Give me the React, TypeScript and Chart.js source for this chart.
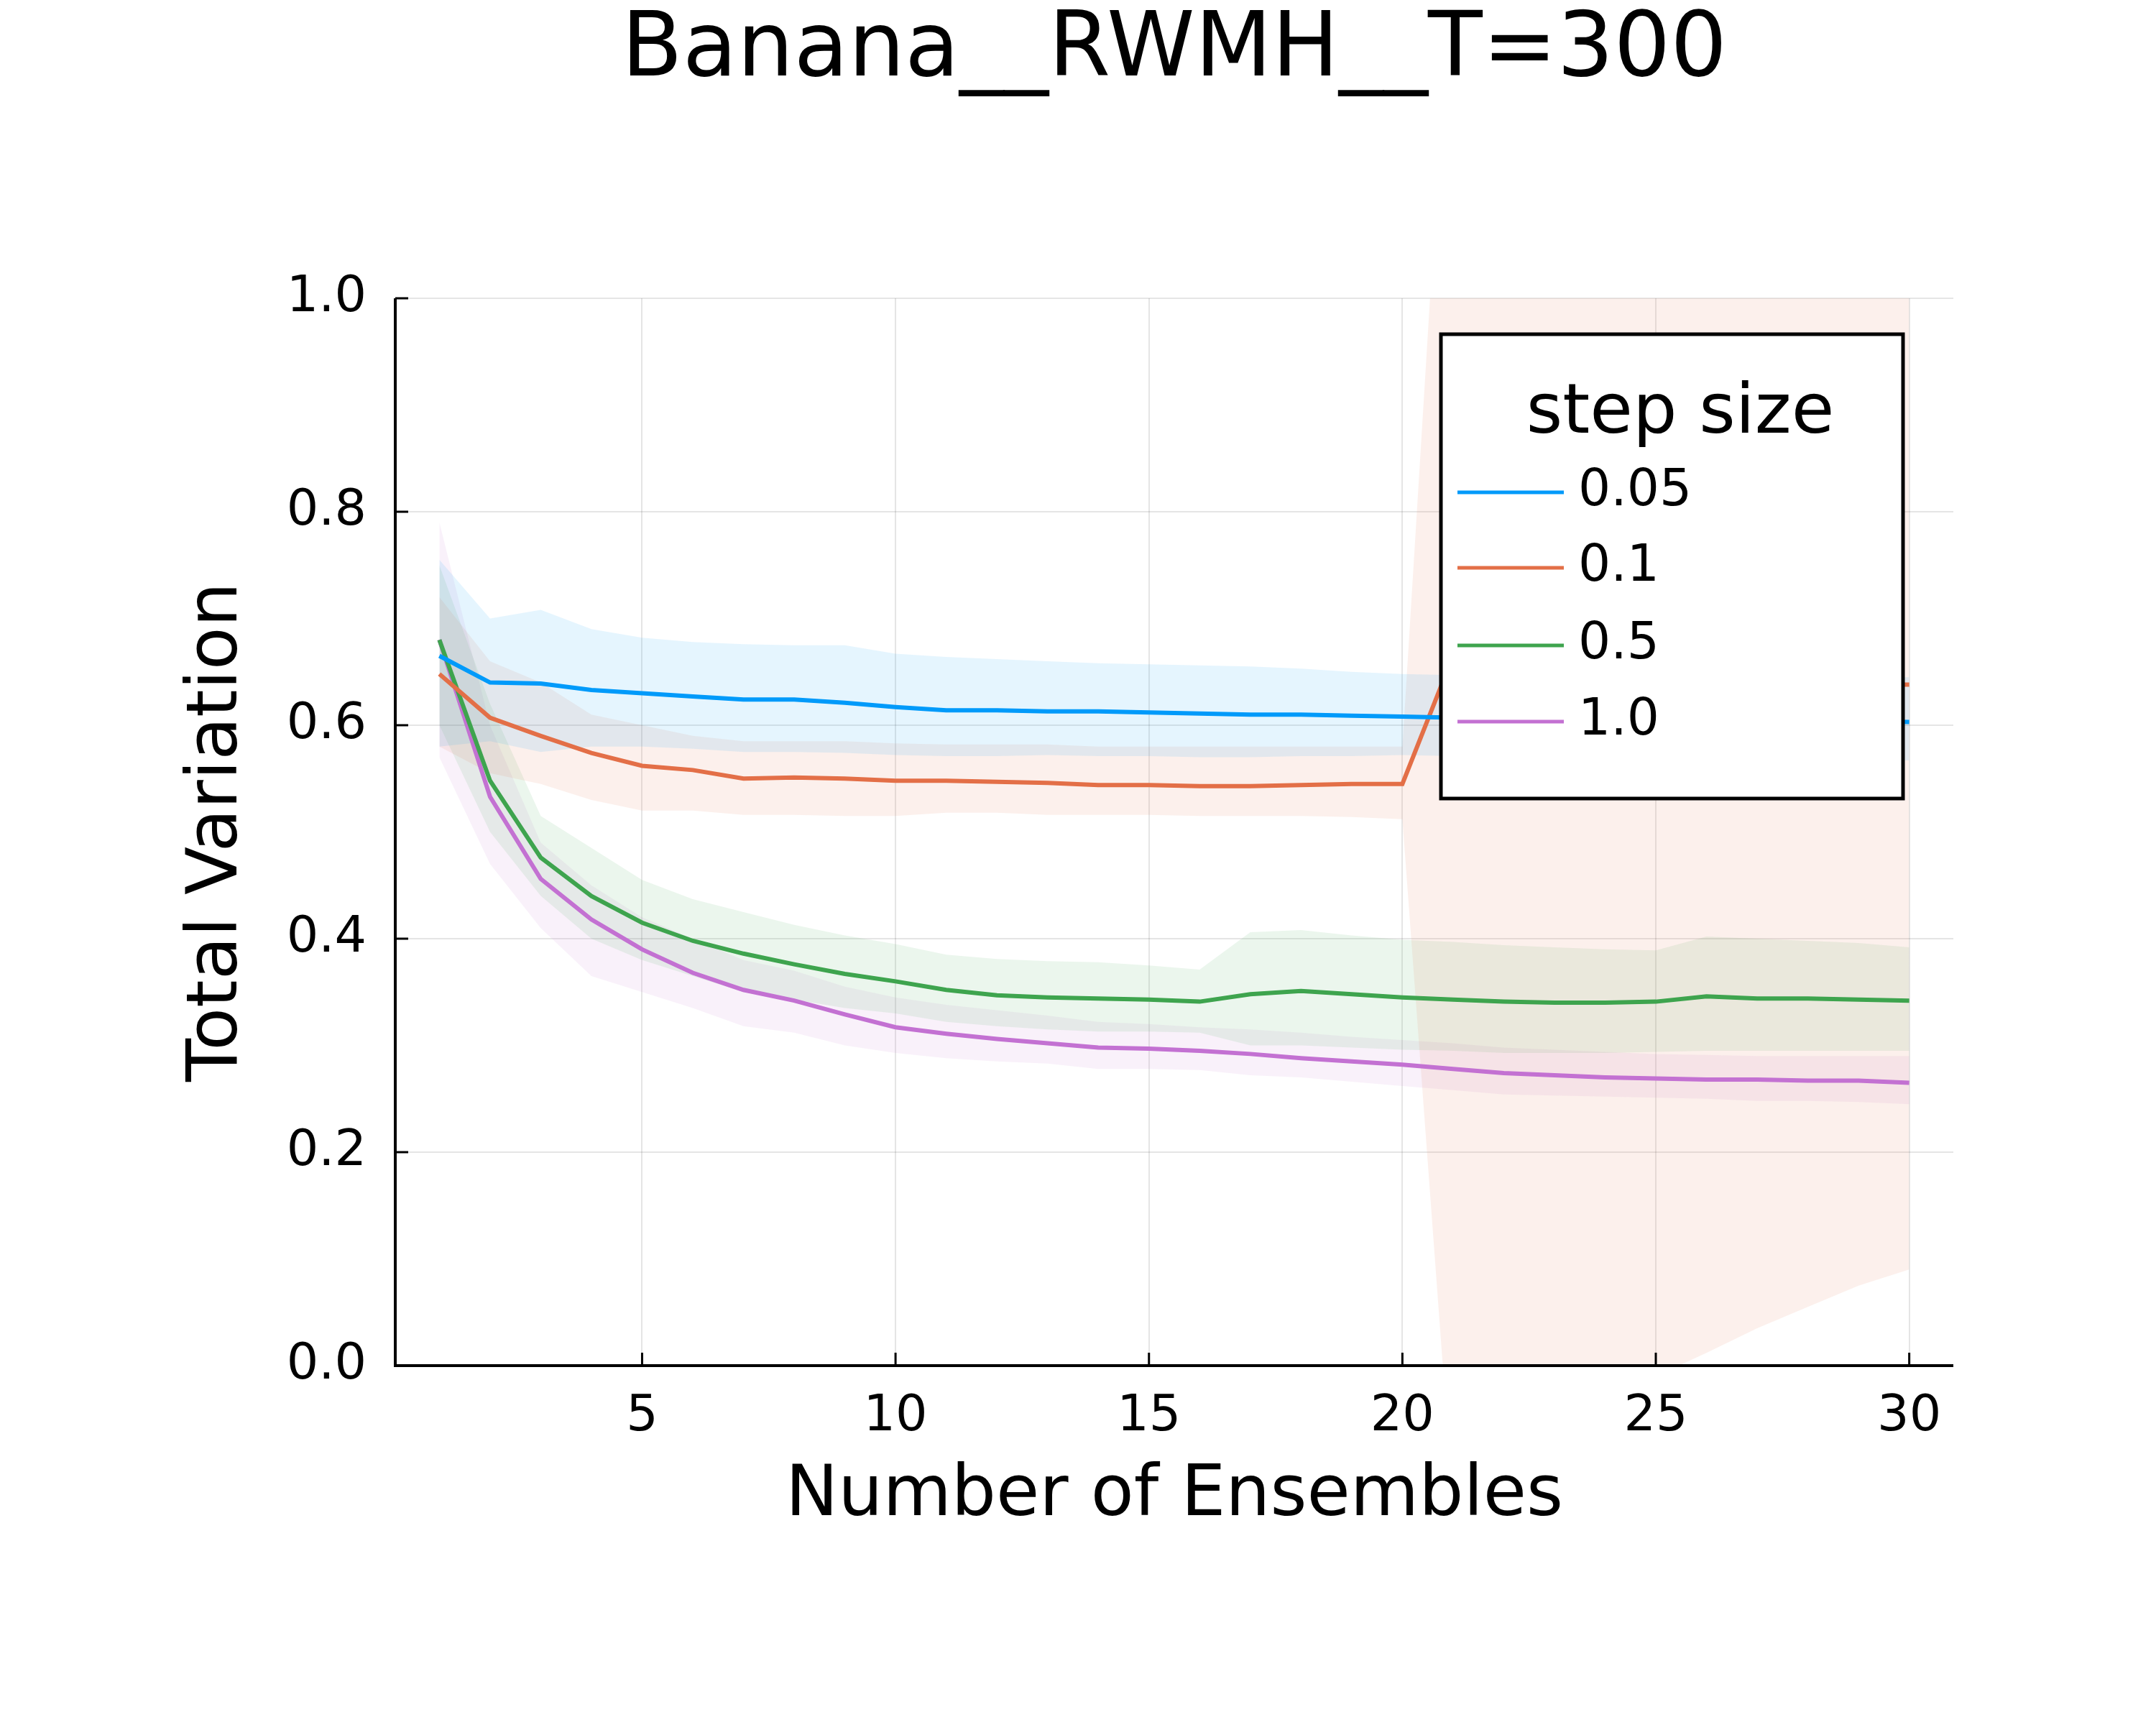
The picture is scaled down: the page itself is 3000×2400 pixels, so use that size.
import React, { useEffect, useRef } from "react";
import { Chart, registerables } from "chart.js";
Chart.register(...registerables);

const ensembles = Array.from({ length: 30 }, (_, i) => i + 1);
const stepLabels = ["0.05", "0.1", "0.5", "1.0"];
const colors = ["#009AFA", "#E36F47", "#3EA44E", "#C371D2"];
const bandColors = ["rgba(0,154,250,0.1)", "rgba(227,111,71,0.1)", "rgba(62,164,78,0.1)", "rgba(195,113,210,0.1)"];

const blueMean = [0.665,0.640,0.639,0.633,0.630,0.627,0.624,0.624,0.621,0.617,0.614,0.614,0.613,0.613,0.612,0.611,0.610,0.610,0.609,0.608,0.607,0.607,0.606,0.606,0.605,0.605,0.605,0.604,0.604,0.603];
const blueUp = [0.755,0.700,0.708,0.690,0.682,0.678,0.676,0.675,0.675,0.667,0.664,0.662,0.660,0.658,0.657,0.656,0.655,0.653,0.650,0.648,0.647,0.646,0.646,0.645,0.645,0.645,0.645,0.645,0.645,0.645];
const blueLo = [0.580,0.585,0.575,0.580,0.580,0.578,0.575,0.575,0.574,0.572,0.571,0.571,0.572,0.571,0.571,0.570,0.570,0.571,0.571,0.572,0.571,0.570,0.570,0.570,0.570,0.570,0.569,0.569,0.568,0.567];
const orangeMean = [0.648,0.607,0.590,0.574,0.562,0.558,0.550,0.551,0.550,0.548,0.548,0.547,0.546,0.544,0.544,0.543,0.543,0.544,0.545,0.545,0.665,0.650,0.645,0.642,0.640,0.640,0.639,0.639,0.638,0.638];
const orangeUp = [0.720,0.660,0.640,0.610,0.600,0.590,0.585,0.585,0.585,0.583,0.582,0.582,0.582,0.580,0.580,0.580,0.580,0.580,0.580,0.580,1.35,1.32,1.30,1.29,1.28,1.27,1.25,1.23,1.21,1.19];
const orangeLo = [0.580,0.555,0.545,0.530,0.520,0.520,0.516,0.516,0.515,0.515,0.518,0.518,0.516,0.516,0.516,0.515,0.515,0.515,0.514,0.512,-0.13,-0.10,-0.07,-0.04,-0.01,0.012,0.035,0.055,0.075,0.090];
const greenMean = [0.680,0.548,0.476,0.440,0.415,0.398,0.386,0.376,0.367,0.360,0.352,0.347,0.345,0.344,0.343,0.341,0.348,0.351,0.348,0.345,0.343,0.341,0.340,0.340,0.341,0.346,0.344,0.344,0.343,0.342];
const greenUp = [0.750,0.620,0.515,0.485,0.455,0.437,0.425,0.413,0.403,0.395,0.385,0.381,0.379,0.378,0.375,0.371,0.406,0.408,0.403,0.399,0.397,0.394,0.392,0.390,0.389,0.402,0.400,0.398,0.396,0.392];
const greenLo = [0.600,0.500,0.440,0.400,0.380,0.365,0.350,0.343,0.335,0.330,0.322,0.318,0.315,0.313,0.313,0.312,0.300,0.300,0.298,0.296,0.295,0.293,0.293,0.293,0.294,0.295,0.295,0.295,0.295,0.295];
const purpleMean = [0.680,0.533,0.456,0.418,0.390,0.368,0.352,0.342,0.329,0.317,0.311,0.306,0.302,0.298,0.297,0.295,0.292,0.288,0.285,0.282,0.278,0.274,0.272,0.270,0.269,0.268,0.268,0.267,0.267,0.265];
const purpleUp = [0.790,0.600,0.490,0.450,0.420,0.400,0.380,0.370,0.355,0.345,0.338,0.333,0.328,0.322,0.320,0.317,0.315,0.312,0.308,0.305,0.302,0.298,0.296,0.294,0.292,0.291,0.290,0.290,0.290,0.290];
const purpleLo = [0.570,0.470,0.410,0.365,0.350,0.335,0.318,0.312,0.300,0.293,0.288,0.285,0.283,0.278,0.278,0.277,0.272,0.270,0.266,0.262,0.258,0.254,0.253,0.252,0.251,0.250,0.248,0.248,0.247,0.245];

const means = [blueMean, orangeMean, greenMean, purpleMean];
const ups = [blueUp, orangeUp, greenUp, purpleUp];
const los = [blueLo, orangeLo, greenLo, purpleLo];
const xTicks = [5, 10, 15, 20, 25, 30];
const yTicks = [0, 0.2, 0.4, 0.6, 0.8, 1.0];

const FONT = "'DejaVu Sans', sans-serif";
const pts = (arr: number[]) => arr.map((y, i) => ({ x: ensembles[i], y }));

export default function App() {
  const ref = useRef<HTMLCanvasElement>(null);
  useEffect(() => {
    document.body.style.margin = "0";
    const datasets: any[] = [];
    for (let s = 0; s < 4; s++) {
      datasets.push({ label: "_lo", data: pts(los[s]), borderWidth: 0, pointRadius: 0, fill: false, order: 10 });
      datasets.push({ label: "_up", data: pts(ups[s]), borderWidth: 0, pointRadius: 0, fill: "-1", backgroundColor: bandColors[s], order: 10 });
    }
    for (let s = 0; s < 4; s++) {
      datasets.push({ label: stepLabels[s], data: pts(means[s]), borderColor: colors[s], borderWidth: 6, pointRadius: 0, fill: false, order: 1 });
    }
    const overlay = {
      id: "overlay",
      afterDraw(chart: any) {
        const c = chart.ctx;
        const a = chart.chartArea;
        c.save();
        c.fillStyle = "#000";
        c.textAlign = "center";
        c.textBaseline = "middle";
        c.font = `124px ${FONT}`;
        c.fillText("Banana__RWMH__T=300", (a.left + a.right) / 2, 73);
        c.font = `98px ${FONT}`;
        c.fillText("Number of Ensembles", (a.left + a.right) / 2, 2083);
        c.save();
        c.translate(304, (a.top + a.bottom) / 2);
        c.rotate(-Math.PI / 2);
        c.fillText("Total Variation", 0, 0);
        c.restore();
        c.strokeStyle = "#000";
        c.lineWidth = 4;
        c.beginPath();
        c.moveTo(a.left, a.top);
        c.lineTo(a.left, a.bottom);
        c.lineTo(a.right, a.bottom);
        c.stroke();
        const xs = chart.scales.x, ys = chart.scales.y;
        c.lineWidth = 3;
        xTicks.forEach((t) => { const px = xs.getPixelForValue(t); c.beginPath(); c.moveTo(px, a.bottom); c.lineTo(px, a.bottom - 18); c.stroke(); });
        yTicks.forEach((t) => { const py = ys.getPixelForValue(t); c.beginPath(); c.moveTo(a.left, py); c.lineTo(a.left + 18, py); c.stroke(); });
        const bx = 2005, by = 465, bw = 643, bh = 646;
        c.fillStyle = "#fff";
        c.fillRect(bx, by, bw, bh);
        c.lineWidth = 5;
        c.strokeRect(bx, by, bw, bh);
        c.fillStyle = "#000";
        c.font = `97px ${FONT}`;
        c.fillText("step size", 2338, 577);
        c.font = `71px ${FONT}`;
        c.textAlign = "left";
        const ly = [685, 790, 898, 1004];
        for (let s = 0; s < 4; s++) {
          c.strokeStyle = colors[s];
          c.lineWidth = 5;
          c.beginPath();
          c.moveTo(2028, ly[s]);
          c.lineTo(2176, ly[s]);
          c.stroke();
          c.fillText(stepLabels[s], 2196, ly[s]);
        }
        c.restore();
      },
    };
    const chart = new Chart(ref.current!, {
      type: "line",
      data: { datasets },
      plugins: [overlay],
      options: {
        animation: false,
        responsive: false,
        devicePixelRatio: 1,
        layout: { padding: { top: 415, right: 282, left: 0, bottom: 0 } },
        plugins: { legend: { display: false }, tooltip: { enabled: false } },
        scales: {
          x: {
            type: "linear",
            min: 0.13,
            max: 30.87,
            afterBuildTicks: (s: any) => { s.ticks = xTicks.map((v) => ({ value: v })); },
            afterFit: (s: any) => { s.height = 2400 - 1900; },
            grid: { color: "rgba(0,0,0,0.1)", lineWidth: 2, drawTicks: false },
            border: { display: false },
            ticks: { font: { size: 70, family: FONT }, color: "#000", padding: 30, maxRotation: 0 },
          },
          y: {
            min: 0,
            max: 1,
            afterBuildTicks: (s: any) => { s.ticks = yTicks.map((v) => ({ value: v })); },
            afterFit: (s: any) => { s.width = 550; },
            grid: { color: "rgba(0,0,0,0.1)", lineWidth: 2, drawTicks: false },
            border: { display: false },
            ticks: { font: { size: 70, family: FONT }, color: "#000", padding: 40, callback: (v: any) => Number(v).toFixed(1) },
          },
        },
      },
    });
    return () => chart.destroy();
  }, []);
  return <canvas ref={ref} width={3000} height={2400} style={{ display: "block" }} />;
}
